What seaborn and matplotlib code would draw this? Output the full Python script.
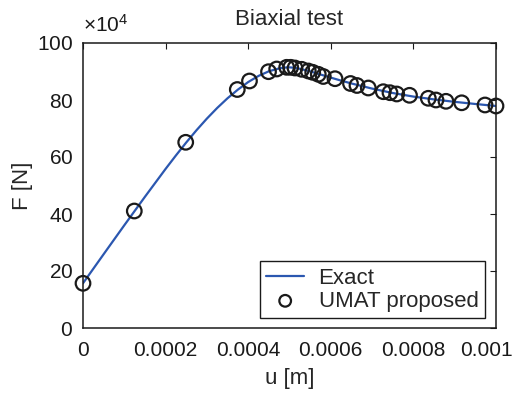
import matplotlib
matplotlib.use("Agg")
import matplotlib.pyplot as plt
import matplotlib.transforms as mtransforms
import seaborn as sns

# ---- data ----
u_exact = [0.0, 0.5e-4, 1.0e-4, 1.5e-4, 2.0e-4, 2.25e-4, 2.5e-4, 2.75e-4, 3.0e-4,
           3.25e-4, 3.5e-4, 3.75e-4, 4.0e-4, 4.25e-4, 4.5e-4, 4.75e-4, 4.875e-4,
           5.0e-4, 5.125e-4, 5.25e-4, 5.5e-4, 5.75e-4, 6.0e-4, 6.25e-4, 6.5e-4,
           7.0e-4, 7.5e-4, 8.0e-4, 8.5e-4, 9.0e-4, 9.5e-4, 1.0e-3]
F_exact = [157000, 259000, 360500, 460500, 558300, 605500, 651000, 694300, 734800,
           772200, 806200, 836400, 863000, 884500, 900700, 911000, 913700,
           914500, 913000, 909500, 900500, 889500, 878500, 868000, 858000,
           840000, 824500, 812000, 802000, 793500, 786000, 779000]

u_umat = [0.0, 1.242e-4, 2.487e-4, 3.736e-4, 4.031e-4, 4.492e-4, 4.690e-4, 4.932e-4,
          5.029e-4, 5.133e-4, 5.295e-4, 5.455e-4, 5.562e-4, 5.697e-4, 5.818e-4,
          6.102e-4, 6.477e-4, 6.634e-4, 6.908e-4, 7.271e-4, 7.433e-4, 7.596e-4,
          7.906e-4, 8.361e-4, 8.547e-4, 8.789e-4, 9.169e-4, 9.734e-4, 1.0e-3]
F_umat = [156800, 410500, 651600, 836800, 866700, 899300, 908800, 914700,
          914700, 912300, 907700, 901800, 897200, 890200, 882500,
          874700, 857900, 850900, 842100, 829100, 825600, 821100,
          816500, 806000, 800000, 795400, 790200, 782500, 778900]

x_ticks = [0.0, 0.0002, 0.0004, 0.0006, 0.0008, 0.001]
x_tick_labels = ["0", "0.0002", "0.0004", "0.0006", "0.0008", "0.001"]
y_ticks = [0, 200000, 400000, 600000, 800000, 1000000]

title = "Biaxial test"
xlabel = "u [m]"
ylabel = "F [N]"
series_names = ["Exact", "UMAT proposed"]

# ---- style ----
sns.set_theme(style="white")
plt.rcParams["font.family"] = ["Liberation Sans", "DejaVu Sans"]
plt.rcParams["mathtext.fontset"] = "custom"
plt.rcParams["mathtext.rm"] = "Liberation Sans"
plt.rcParams["mathtext.it"] = "Liberation Sans:italic"
plt.rcParams["mathtext.bf"] = "Liberation Sans:bold"

fig = plt.figure(figsize=(5.16, 3.94), dpi=100)
ax = fig.add_axes([83 / 516, 66 / 394, 413 / 516, 285 / 394])

sns.lineplot(x=u_exact, y=F_exact, ax=ax, color="#2b57b0", linewidth=1.6,
             label=series_names[0], sort=False)
sns.scatterplot(x=u_umat, y=F_umat, ax=ax, marker="o", s=110,
                facecolors="none", edgecolors="#1a1a1a", linewidth=1.6,
                label=series_names[1], clip_on=False, zorder=3)

ax.set_xlim(0, 0.001)
ax.set_ylim(0, 1000000)
ax.set_xticks(x_ticks)
ax.set_xticklabels(x_tick_labels)
ax.set_yticks(y_ticks)
ax.ticklabel_format(axis="y", style="sci", scilimits=(4, 4), useMathText=True)

ax.tick_params(direction="in", length=4, width=0.8, top=True, right=True,
               labelsize=15, colors="#1a1a1a")
ax.tick_params(axis="x", pad=9)
ax.tick_params(axis="y", pad=7)

off = ax.yaxis.get_offset_text()
off.set_fontsize(15)
off.set_transform(off.get_transform() +
                  mtransforms.ScaledTranslation(0, 5 / 72, fig.dpi_scale_trans))

# keep the last x tick label inside the picture
last = ax.get_xticklabels()[-1]
last.set_transform(last.get_transform() +
                   mtransforms.ScaledTranslation(-7 / 72, 0, fig.dpi_scale_trans))

for s in ax.spines.values():
    s.set_linewidth(1.1)
    s.set_color("#1a1a1a")

ax.set_title(title, fontsize=16, pad=13, color="#262626")
ax.set_xlabel(xlabel, fontsize=16, labelpad=6, color="#262626")
ax.set_ylabel(ylabel, fontsize=16, labelpad=3, color="#262626")

leg = ax.legend(loc="lower right", bbox_to_anchor=(0.9735, 0.034), borderaxespad=0,
                frameon=True, fancybox=False, edgecolor="#1a1a1a", framealpha=1,
                fontsize=16, handlelength=1.7, handletextpad=0.65, labelspacing=0.08,
                borderpad=0.3, markerscale=0.8)
leg.get_frame().set_linewidth(1.0)

fig.savefig("out.png", dpi=100)
